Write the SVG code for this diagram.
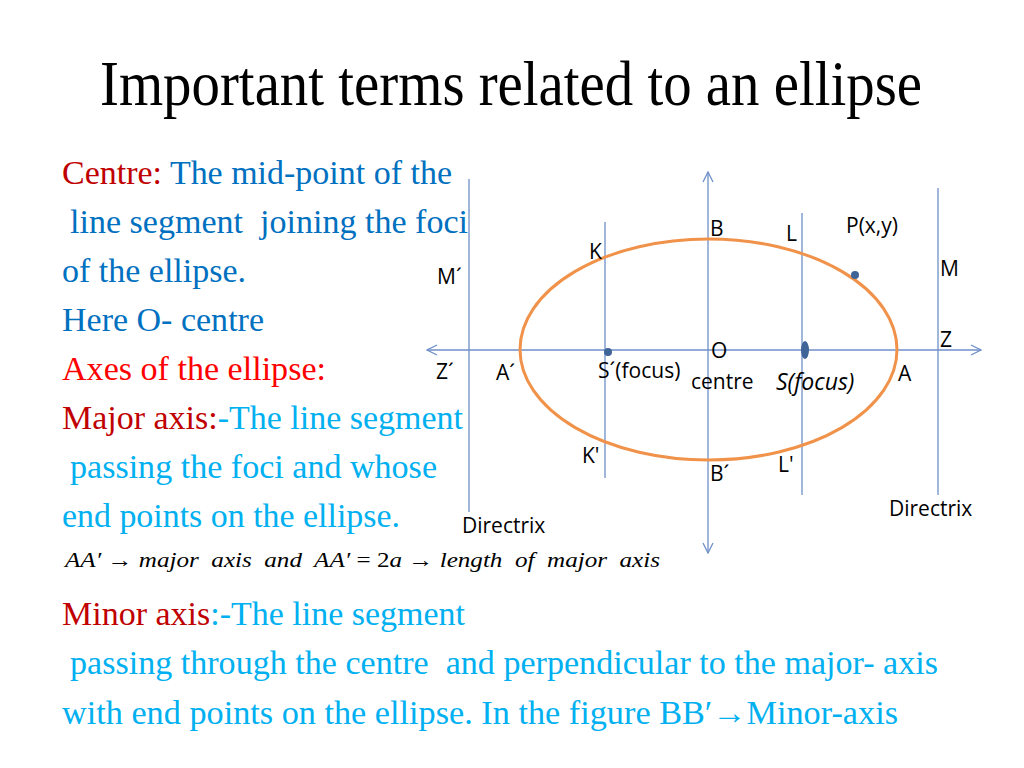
<svg xmlns="http://www.w3.org/2000/svg" width="1024" height="768" viewBox="0 0 1024 768">
<defs>
<marker id="arr" viewBox="0 0 12 12" refX="11" refY="6" markerWidth="12" markerHeight="12" markerUnits="userSpaceOnUse" orient="auto">
<path d="M1,1 L11,6 L1,11" fill="none" stroke="#6F8FC8" stroke-width="1.3"/>
</marker>
<style>
.serif{font-family:"Liberation Serif","Times New Roman",serif}
.body{font-size:33px}
.blue{fill:#0070C0}
.lblue{fill:#00B0F0}
.dred{fill:#C00000}
.red{fill:#FF0000}
.lab{font-family:"Open Sans",Lato,sans-serif;font-size:21px;fill:#000}
.ax{stroke:#6F8FC8;stroke-width:1.3;fill:none}
.dot{fill:#3F6497}
.it{font-style:italic}
</style>
</defs>
<rect width="1024" height="768" fill="#fff"/>
<text class="serif" x="100" y="105" font-size="64" textLength="822" lengthAdjust="spacingAndGlyphs" fill="#000">Important terms related to an ellipse</text>

<g id="left-text" class="serif body">
<text x="62" y="184" textLength="390" lengthAdjust="spacingAndGlyphs"><tspan class="dred">Centre:</tspan><tspan class="blue"> The mid-point of the</tspan></text>
<text x="70" y="233" class="blue" textLength="398" lengthAdjust="spacingAndGlyphs" xml:space="preserve">line segment  joining the foci</text>
<text x="62" y="282" class="blue" textLength="184" lengthAdjust="spacingAndGlyphs">of the ellipse.</text>
<text x="62" y="331" class="blue" textLength="202" lengthAdjust="spacingAndGlyphs">Here O- centre</text>
<text x="62" y="380" class="red" textLength="264" lengthAdjust="spacingAndGlyphs">Axes of the ellipse:</text>
<text x="62" y="429" textLength="401" lengthAdjust="spacingAndGlyphs"><tspan class="dred">Major axis:</tspan><tspan class="lblue">-The line segment</tspan></text>
<text x="70" y="478" class="lblue" textLength="367" lengthAdjust="spacingAndGlyphs">passing the foci and whose</text>
<text x="62" y="527" class="lblue" textLength="338" lengthAdjust="spacingAndGlyphs">end points on the ellipse.</text>
</g>

<g id="formula" class="serif" font-size="22" fill="#000">
<text x="65" y="567" textLength="595" lengthAdjust="spacingAndGlyphs" xml:space="preserve"><tspan class="it">AA′</tspan> → <tspan class="it">major  axis  and  AA′</tspan> = 2<tspan class="it">a</tspan> → <tspan class="it">length  of  major  axis</tspan></text>
</g>

<g id="minor-text" class="serif" font-size="34">
<text x="62" y="625" textLength="403" lengthAdjust="spacingAndGlyphs"><tspan class="dred">Minor axis</tspan><tspan class="lblue">:-The line segment</tspan></text>
<text x="70" y="674" class="lblue" textLength="868" lengthAdjust="spacingAndGlyphs" xml:space="preserve">passing through the centre  and perpendicular to the major- axis</text>
<text x="62" y="724" class="lblue" textLength="836" lengthAdjust="spacingAndGlyphs">with end points on the ellipse. In the figure BB′→Minor-axis</text>
</g>

<g id="connectors">
<line class="ax" x1="708" y1="350" x2="427" y2="350" marker-end="url(#arr)"/>
<line class="ax" x1="708" y1="350" x2="981" y2="350" marker-end="url(#arr)"/>
<line class="ax" x1="708" y1="350" x2="708" y2="172" marker-end="url(#arr)"/>
<line class="ax" x1="708" y1="350" x2="708" y2="553" marker-end="url(#arr)"/>
<line class="ax" x1="469" y1="179" x2="469" y2="512"/>
<line class="ax" x1="938" y1="188" x2="938" y2="495"/>
<line class="ax" x1="605" y1="222" x2="605" y2="478"/>
<line class="ax" x1="802" y1="213" x2="802" y2="495"/>
</g>

<g id="ellipse">
<ellipse cx="708.5" cy="349.5" rx="188.5" ry="110.5" fill="none" stroke="#F0924A" stroke-width="3"/>
</g>

<g id="foci">
<circle class="dot" cx="608" cy="352" r="4"/>
<ellipse class="dot" cx="805" cy="350" rx="4" ry="9"/>
<circle class="dot" cx="855" cy="275" r="4"/>
</g>

<g id="labels" class="lab">
<text x="710" y="236">B</text>
<text x="786" y="241">L</text>
<text x="846" y="233">P(x,y)</text>
<text x="589" y="259">K</text>
<text x="940" y="276">M</text>
<text x="437" y="284">M´</text>
<text x="940" y="347">Z</text>
<text x="711" y="358">O</text>
<text x="436" y="379">Z´</text>
<text x="496" y="380">A´</text>
<text x="598" y="378">S´(focus)</text>
<text x="691" y="389">centre</text>
<text x="776" y="390" class="it" font-size="23">S(focus)</text>
<text x="898" y="381">A</text>
<text x="582" y="463">K'</text>
<text x="710" y="481">B´</text>
<text x="778" y="472">L'</text>
<text x="889" y="516">Directrix</text>
<text x="462" y="533">Directrix</text>
</g>
</svg>
